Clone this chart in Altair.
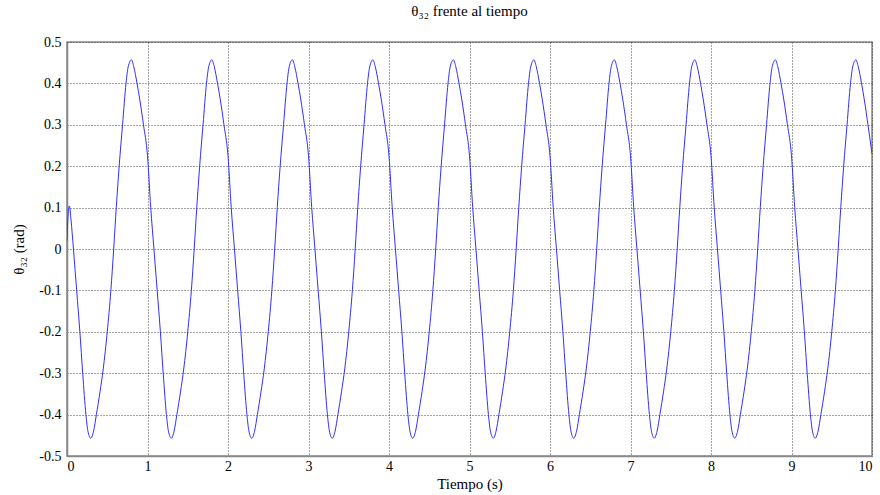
import altair as alt
import pandas as pd

# First cycle (start-up transient)
first_t = [0.0, 0.01, 0.03, 0.05, 0.08, 0.12, 0.16, 0.195, 0.235, 0.26, 0.295, 0.33,
           0.365, 0.41, 0.45, 0.50, 0.545, 0.58, 0.612, 0.648, 0.69, 0.733, 0.76,
           0.80, 0.83, 0.87, 0.905, 0.95]
first_v = [0.02, 0.07, 0.104, 0.07, 0.0, -0.10, -0.20, -0.30, -0.40, -0.44, -0.457,
           -0.44, -0.40, -0.345, -0.29, -0.20, -0.10, 0.0, 0.10, 0.20, 0.30, 0.40,
           0.44, 0.457, 0.44, 0.40, 0.36, 0.30]

# Steady cycle shape (phase within each 1 s cycle)
cycle_phase = [0.0, 0.04, 0.08, 0.12, 0.16, 0.195, 0.235, 0.26, 0.295, 0.33, 0.365,
               0.41, 0.45, 0.50, 0.545, 0.58, 0.612, 0.648, 0.69, 0.733, 0.76, 0.80,
               0.83, 0.87, 0.905, 0.95]
cycle_value = [0.225, 0.10, 0.0, -0.10, -0.20, -0.30, -0.40, -0.44, -0.457, -0.44,
               -0.40, -0.345, -0.29, -0.20, -0.10, 0.0, 0.10, 0.20, 0.30, 0.40, 0.44,
               0.457, 0.44, 0.40, 0.36, 0.30]
cycle_starts = [1, 2, 3, 4, 5, 6, 7, 8, 9]
end_t = [10.0]
end_v = [0.23]

t_all = list(first_t)
v_all = list(first_v)
for s in cycle_starts:
    for p, v in zip(cycle_phase, cycle_value):
        t_all.append(s + p)
        v_all.append(v)
t_all += end_t
v_all += end_v

df = pd.DataFrame({"t": t_all, "theta": v_all})

FONT = "Liberation Serif"

line = alt.Chart(df).mark_line(
    color="#2f2fff", strokeWidth=1, interpolate="monotone", clip=True
).encode(
    x=alt.X("t:Q",
            scale=alt.Scale(domain=[0, 10], nice=False, zero=False),
            axis=alt.Axis(title="Tiempo (s)", values=list(range(0, 11)),
                          format="d", grid=True, gridDash=[1, 2],
                          gridColor="#333", gridOpacity=0.9, gridWidth=1,
                          ticks=False, labelPadding=3, titlePadding=3,
                          domainColor="#888", domainWidth=1.5)),
    y=alt.Y("theta:Q",
            scale=alt.Scale(domain=[-0.5, 0.5], nice=False, zero=False),
            axis=alt.Axis(title="θ₃₂ (rad)",
                          values=[-0.5, -0.4, -0.3, -0.2, -0.1, 0, 0.1, 0.2, 0.3, 0.4, 0.5],
                          labelExpr="replace(format(datum.value, '.1~f'), '\u2212', '-')",
                          grid=True, gridDash=[1, 2], gridColor="#333",
                          gridOpacity=0.9, gridWidth=1,
                          ticks=False, labelPadding=6, titlePadding=12,
                          domainColor="#888", domainWidth=1.5)),
)

chart = line.properties(
    width=805, height=414,
    background="white",
    title=alt.TitleParams("θ₃₂ frente al tiempo", font=FONT, fontSize=15,
                          fontWeight="normal", color="black", offset=16),
    autosize=alt.AutoSizeParams(type="none"),
    padding={"left": 67, "top": 42, "right": 8, "bottom": 39},
).configure_view(
    stroke="#888", strokeWidth=1.5
).configure_axis(
    labelFont=FONT, labelFontSize=14, labelColor="black",
    titleFont=FONT, titleFontSize=15, titleFontWeight="normal", titleColor="black",
)

chart.save("out.html", embed_options={"renderer": "svg", "actions": False})
